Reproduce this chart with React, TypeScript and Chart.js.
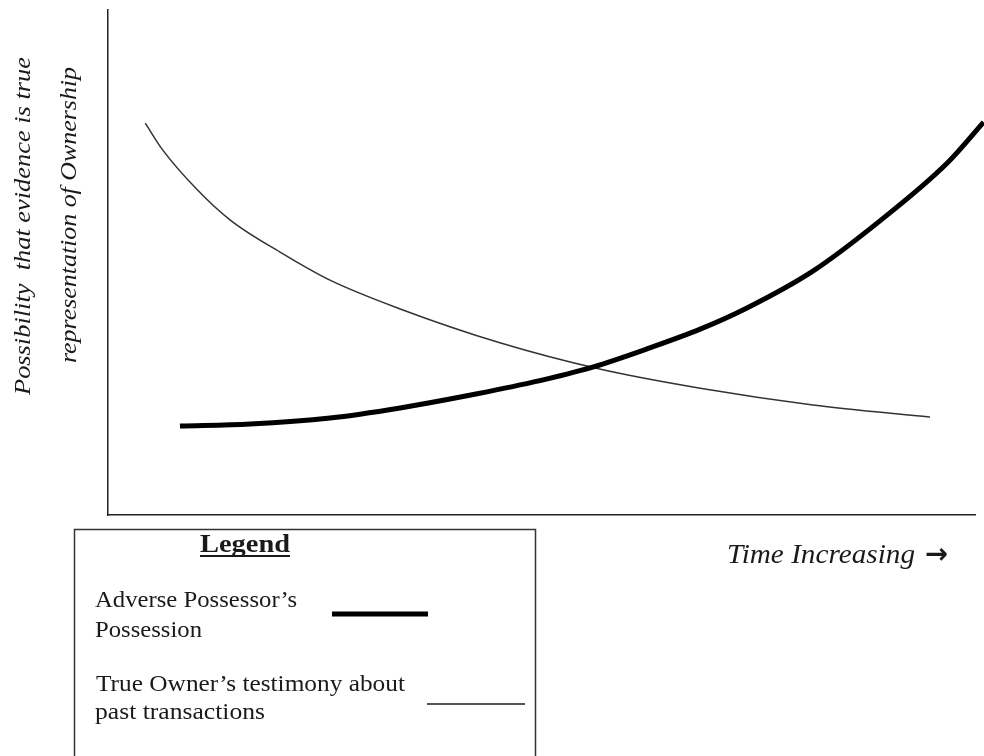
import React, { useEffect, useRef } from "react";
import { Chart, registerables } from "chart.js";

Chart.register(...registerables);

// Time axis positions (arbitrary units, 0 = origin, 100 = end of axis)
const possessionTime = [8.3, 16.4, 25.6, 33.7, 41.4, 49.0, 55.9, 62.5, 68.3, 73.7, 81.3, 89.0, 96.8, 101.0];
// Possibility values for the adverse possessor's possession (thick line)
const possessionValues = [17.6, 18.0, 19.2, 21.2, 23.6, 26.3, 29.3, 33.1, 36.8, 41.0, 48.3, 58.2, 69.7, 77.8];

const testimonyTime = [4.3, 6.3, 10.3, 14.1, 19.8, 25.6, 33.7, 45.2, 56.7, 68.3, 81.3, 94.8];
// Possibility values for the true owner's testimony (thin line)
const testimonyValues = [77.6, 72.3, 64.4, 58.4, 52.1, 46.5, 40.8, 34.1, 28.9, 25.1, 21.8, 19.4];

const seriesLabels = ["Adverse Possessor’s Possession", "True Owner’s testimony about past transactions"];
const legendTitle = "Legend";
const legendLines = [
  ["Adverse Possessor’s", "Possession"],
  ["True Owner’s testimony about", "past transactions"],
];
const yTitleLines = ["Possibility  that evidence is true", "representation of Ownership"];
const xTitle = "Time Increasing";
const xArrow = "→";

const SERIF = '"Times New Roman", "Liberation Serif", Tinos, serif';
const TEXT = "#1a1a1a";

function fitted(ctx: CanvasRenderingContext2D, text: string, x: number, y: number, font: string, width: number, rot = 0, align: CanvasTextAlign = "left") {
  ctx.save();
  ctx.font = font;
  ctx.fillStyle = TEXT;
  ctx.textBaseline = "alphabetic";
  ctx.textAlign = align;
  const m = ctx.measureText(text).width || 1;
  ctx.translate(x, y);
  if (rot) ctx.rotate(rot);
  ctx.scale(width / m, 1);
  ctx.fillText(text, 0, 0);
  ctx.restore();
}

const decorPlugin = {
  id: "decor",
  afterDraw(chart: any) {
    const ctx: CanvasRenderingContext2D = chart.ctx;
    const ds = chart.data.datasets;

    // Y-axis title (two rotated lines)
    fitted(ctx, yTitleLines[0], 30, 226, `italic 23px ${SERIF}`, 338, -Math.PI / 2, "center");
    fitted(ctx, yTitleLines[1], 76, 215, `italic 23px ${SERIF}`, 296, -Math.PI / 2, "center");

    // X-axis title
    fitted(ctx, xTitle, 727, 563, `italic 27px ${SERIF}`, 188);
    fitted(ctx, xArrow, 925, 563, `bold 28px "DejaVu Sans", sans-serif`, 23);

    // Legend box
    ctx.save();
    ctx.strokeStyle = "#333";
    ctx.lineWidth = 1.5;
    ctx.strokeRect(74.5, 529.5, 461, 240);
    ctx.restore();

    fitted(ctx, legendTitle, 200, 552, `bold 25px ${SERIF}`, 90);
    ctx.save();
    ctx.strokeStyle = TEXT;
    ctx.lineWidth = 2;
    ctx.beginPath();
    ctx.moveTo(200, 556);
    ctx.lineTo(290, 556);
    ctx.stroke();
    ctx.restore();

    fitted(ctx, legendLines[0][0], 95, 607, `23px ${SERIF}`, 202);
    fitted(ctx, legendLines[0][1], 95, 637, `23px ${SERIF}`, 107);
    fitted(ctx, legendLines[1][0], 96, 691, `23px ${SERIF}`, 309);
    fitted(ctx, legendLines[1][1], 95, 719, `23px ${SERIF}`, 170);

    // Legend samples
    ctx.save();
    ctx.lineCap = "butt";
    ctx.strokeStyle = ds[0].borderColor;
    ctx.lineWidth = ds[0].borderWidth;
    ctx.beginPath();
    ctx.moveTo(332, 614);
    ctx.lineTo(428, 614);
    ctx.stroke();
    ctx.strokeStyle = "#555";
    ctx.lineWidth = 2;
    ctx.beginPath();
    ctx.moveTo(427, 704);
    ctx.lineTo(525, 704);
    ctx.stroke();
    ctx.restore();
  },
};

export default function App() {
  const ref = useRef<HTMLCanvasElement>(null);

  useEffect(() => {
    if (!ref.current) return;
    const chart = new Chart(ref.current, {
      type: "line",
      data: {
        datasets: [
          {
            label: seriesLabels[0],
            data: possessionTime.map((t, i) => ({ x: t, y: possessionValues[i] })),
            borderColor: "#000",
            borderWidth: 5,
            pointRadius: 0,
            cubicInterpolationMode: "monotone",
            borderCapStyle: "butt",
            clip: false as any,
          },
          {
            label: seriesLabels[1],
            data: testimonyTime.map((t, i) => ({ x: t, y: testimonyValues[i] })),
            borderColor: "#333",
            borderWidth: 1.5,
            pointRadius: 0,
            cubicInterpolationMode: "monotone",
            clip: false as any,
          },
        ],
      },
      options: {
        animation: false,
        responsive: false,
        devicePixelRatio: 1,
        layout: { padding: { left: 108, top: 10, right: 9, bottom: 241 } },
        plugins: { legend: { display: false }, tooltip: { enabled: false } },
        scales: {
          x: {
            type: "linear",
            min: 0,
            max: 100,
            grid: { display: false, drawTicks: false },
            ticks: { display: false },
            border: { display: true, color: "#222", width: 1.5 },
          },
          y: {
            type: "linear",
            min: 0,
            max: 100,
            grid: { display: false, drawTicks: false },
            ticks: { display: false },
            border: { display: true, color: "#222", width: 1.5 },
          },
        },
      },
      plugins: [decorPlugin],
    });
    return () => chart.destroy();
  }, []);

  return (
    <div style={{ position: "fixed", left: 0, top: 0, width: 984, height: 756, background: "#fff" }}>
      <canvas ref={ref} width={984} height={756} />
    </div>
  );
}
